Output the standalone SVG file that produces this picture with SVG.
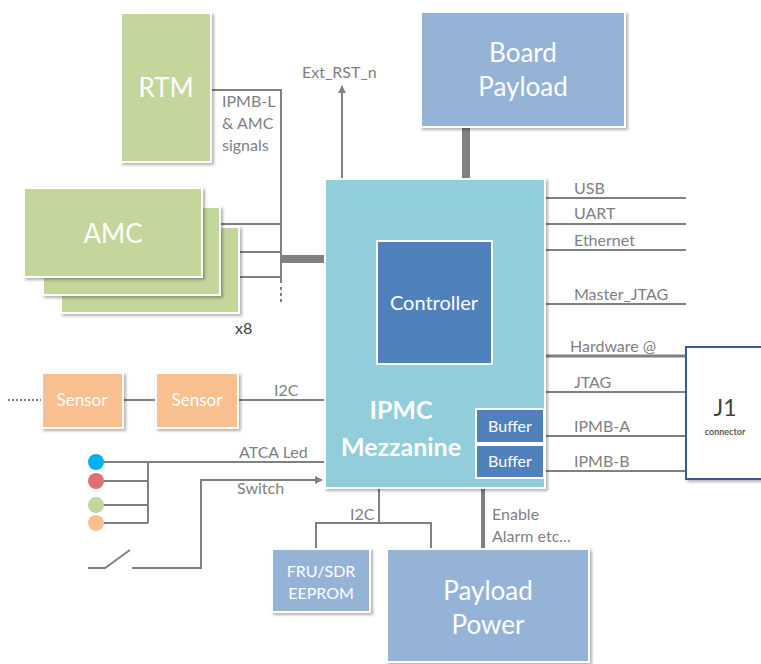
<svg xmlns="http://www.w3.org/2000/svg" width="761" height="664" viewBox="0 0 761 664">
<defs>
<filter id="sh" x="-10%" y="-10%" width="125%" height="125%">
<feDropShadow dx="2" dy="2" stdDeviation="1.5" flood-color="#000" flood-opacity="0.3"/>
</filter>
<marker id="arr" viewBox="0 0 10 10" refX="9" refY="5" markerWidth="4" markerHeight="4" orient="auto">
<path d="M0,0 L10,5 L0,10 z" fill="#808080"/>
</marker>
</defs>
<style>
.g{fill:#C3D69B;stroke:#fff;stroke-width:2;filter:url(#sh)}
.b{fill:#95B3D7;stroke:#fff;stroke-width:2;filter:url(#sh)}
.o{fill:#FAC090;stroke:#fff;stroke-width:2;filter:url(#sh)}
.d{fill:#4F81BD;stroke:#fff;stroke-width:2}
.w{fill:#fff;font-family:Lato,"Open Sans",sans-serif;text-anchor:middle}
.l{fill:#7F7F7F;font-family:Lato,"Open Sans",sans-serif;font-size:16px}
.ln{stroke:#808080;stroke-width:2;fill:none}
</style>
<g id="connectors">
<path class="ln" d="M211,90 H281 V283"/>
<path class="ln" d="M202,224 H281 M220,252 H281 M239,277 H281"/>
<path d="M281,259 H325" stroke="#808080" stroke-width="8"/>
<path d="M281,287 V304" stroke="#808080" stroke-width="2" stroke-dasharray="3,3"/>
<path class="ln" d="M342,179 V86" marker-end="url(#arr)"/>
<path d="M466,127 V179" stroke="#808080" stroke-width="8"/>
<path class="ln" d="M545,198 H686 M545,224 H686 M545,250 H686 M545,304 H686"/>
<path d="M545,356 H686" stroke="#808080" stroke-width="3"/>
<path class="ln" d="M545,392 H686 M545,436 H686 M545,471 H686"/>
<path d="M483,488 V549" stroke="#808080" stroke-width="4"/>
<path class="ln" d="M379,488 V523 M316,549 V523 H431 V549"/>
<path d="M8,400 H42" stroke="#808080" stroke-width="2" stroke-dasharray="2,2"/>
<path class="ln" d="M123,400 H156 M238,400 H325"/>
<path class="ln" d="M96,462 H148 M96,481 H148 M96,505 H148 M96,523 H148 M148,462 V523 M148,462 H325"/>
<path class="ln" d="M88,568 H105 L130,550 M132,568 H201 V480 H322" marker-end="url(#arr)"/>
</g>
<g id="rtm"><rect class="g" x="121" y="13" width="90" height="149"/><text class="w" x="166" y="97" font-size="26">RTM</text></g>
<g id="amc3"><rect class="g" x="61" y="227" width="178" height="86"/></g>
<g id="amc2"><rect class="g" x="43" y="207" width="177" height="88"/></g>
<g id="amc"><rect class="g" x="24" y="188" width="178" height="89"/><text class="w" x="113" y="243" font-size="26">AMC</text></g>
<g id="labels">
<text class="l" x="222" y="107">IPMB-L</text>
<text class="l" x="222" y="129">&amp; AMC</text>
<text class="l" x="222" y="151">signals</text>
<text class="l" x="235" y="334" style="fill:#404040">x8</text>
<text class="l" x="302" y="78">Ext_RST_n</text>
<text class="l" x="574" y="194">USB</text>
<text class="l" x="574" y="219">UART</text>
<text class="l" x="574" y="246">Ethernet</text>
<text class="l" x="574" y="300">Master_JTAG</text>
<text class="l" x="570" y="352">Hardware @</text>
<text class="l" x="574" y="388">JTAG</text>
<text class="l" x="574" y="432">IPMB-A</text>
<text class="l" x="574" y="467">IPMB-B</text>
<text class="l" x="492" y="520">Enable</text>
<text class="l" x="492" y="542">Alarm etc...</text>
<text class="l" x="350" y="520">I2C</text>
<text class="l" x="274" y="396">I2C</text>
<text class="l" x="239" y="458">ATCA Led</text>
<text class="l" x="237" y="494">Switch</text>
</g>
<g id="board-payload"><rect class="b" x="421" y="12" width="204" height="115"/><text class="w" x="523" y="62" font-size="26">Board</text><text class="w" x="523" y="96" font-size="26">Payload</text></g>
<g id="ipmc"><rect x="325" y="179" width="220" height="309" fill="#92CDDC" stroke="#fff" stroke-width="2" filter="url(#sh)"/>
<text class="w" x="401" y="419" font-size="25" font-weight="bold">IPMC</text>
<text class="w" x="401" y="456" font-size="25" font-weight="bold">Mezzanine</text></g>
<g id="controller"><rect class="d" x="377" y="241" width="115" height="123"/><text class="w" x="434" y="310" font-size="20">Controller</text></g>
<g id="buffer-a"><rect class="d" x="476" y="409" width="68" height="34"/><text class="w" x="510" y="432" font-size="16">Buffer</text></g>
<g id="buffer-b"><rect class="d" x="476" y="445" width="68" height="33"/><text class="w" x="510" y="467" font-size="16">Buffer</text></g>
<g id="j1"><rect x="686" y="347" width="80" height="132" fill="#fff" stroke="#385D8A" stroke-width="2" filter="url(#sh)"/>
<text x="725" y="416" font-size="23" fill="#404040" font-family="Lato,'Open Sans',sans-serif" text-anchor="middle">J1</text>
<text x="725" y="435" font-size="9" font-weight="bold" fill="#595959" font-family="Lato,'Open Sans',sans-serif" text-anchor="middle">connector</text></g>
<g id="sensor1"><rect class="o" x="42" y="373" width="81" height="55"/><text class="w" x="82" y="406" font-size="17">Sensor</text></g>
<g id="sensor2"><rect class="o" x="156" y="373" width="82" height="55"/><text class="w" x="197" y="406" font-size="17">Sensor</text></g>
<g id="leds">
<circle cx="96" cy="462" r="8" fill="#00B0F0"/>
<circle cx="96" cy="481" r="8" fill="#E07070"/>
<circle cx="96" cy="505" r="8" fill="#C3D69B"/>
<circle cx="96" cy="523" r="8" fill="#FAC090"/>
</g>
<g id="fru"><rect class="b" x="272" y="549" width="98" height="63"/><text class="w" x="321" y="577" font-size="16">FRU/SDR</text><text class="w" x="321" y="599" font-size="16">EEPROM</text></g>
<g id="payload-power"><rect class="b" x="387" y="549" width="202" height="113"/><text class="w" x="488" y="600" font-size="26">Payload</text><text class="w" x="488" y="634" font-size="26">Power</text></g>
</svg>
